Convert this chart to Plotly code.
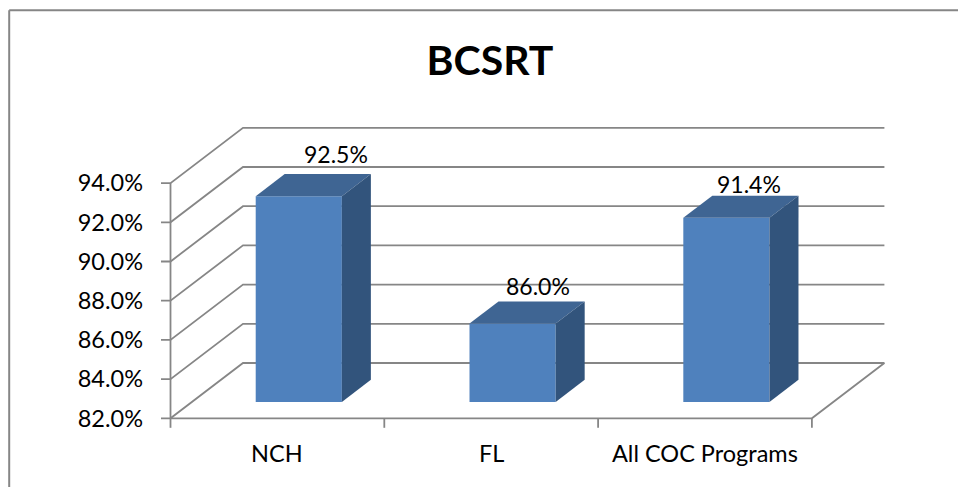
import plotly.graph_objects as go

# ---- data ----
title = "BCSRT"
categories = ["NCH", "FL", "All COC Programs"]
values = [92.5, 86.0, 91.4]
y_ticks = [82, 84, 86, 88, 90, 92, 94]

# ---- style / projection ----
FONT = "Lato"
GREY = "#868686"
FRONT, TOP, SIDE = "#4F81BD", "#3F6593", "#32547C"
W, H = 958, 487
ORIGIN_PX = (170.5, 418.3)  # where the first tick value meets the first category edge
L, R, T, B = 158, 70, 124, 55
PW, PH = W - L - R, H - T - B
PX_CAT = 213.8       # pixels per category
PX_PCT = 19.6        # pixels per percent point
DX = 72.5 / PX_CAT   # depth offset of the back wall, category units
DY = 55.3 / PX_PCT   # depth offset of the back wall, percent units
BAR_W = 0.403
D0, D1 = 0.295, 0.695  # bar front and back depth (0 front, 1 back wall)
TICK_X = 9.5 / PX_CAT
TICK_Y = 9.5 / PX_PCT
label_shift_px = [(37, 42), (25.5, 38), (22.5, 34)]
LINE_W = 1.8

y_min = y_ticks[0]
x_range = [(L - ORIGIN_PX[0]) / PX_CAT, (W - R - ORIGIN_PX[0]) / PX_CAT]
y_range = [y_min - (H - B - ORIGIN_PX[1]) / PX_PCT, y_min + (ORIGIN_PX[1] - T) / PX_PCT]
n = len(categories)


def proj(x, y, d):
    return x + d * DX, y + d * DY


def paper_x(px):
    return (px - L) / PW


def paper_y(py):
    return 1 - (py - T) / PH


fig = go.Figure()


def line(xs, ys):
    fig.add_trace(go.Scatter(x=xs, y=ys, mode="lines", hoverinfo="skip", showlegend=False,
                             line=dict(color=GREY, width=LINE_W)))


# walls, floor and tick marks
for t in y_ticks:
    bx, by = proj(0, t, 1)
    ex, ey = proj(n, t, 1)
    line([-TICK_X, 0, bx, ex], [t, t, by, ey])
line([0, 0], [y_ticks[0], y_ticks[-1]])
fx, fy = proj(n, y_min, 1)
line([0, n, fx], [y_min, y_min, fy])
for i in range(n + 1):
    line([i, i], [y_min, y_min - TICK_Y])

# bars: front faces through a bar trace on an overlay axis pair
centers = [i + 0.5 + D0 * DX for i in range(n)]
base = y_min + D0 * DY
fig.add_trace(go.Bar(x=centers, y=[v - y_min for v in values], base=base, width=BAR_W,
                     marker=dict(color=FRONT, line=dict(width=0)), xaxis="x2", yaxis="y2",
                     showlegend=False, hoverinfo="skip"))


def poly(pts, color):
    xs, ys = zip(*pts)
    fig.add_trace(go.Scatter(x=list(xs) + [xs[0]], y=list(ys) + [ys[0]], mode="lines", fill="toself",
                             fillcolor=color, line=dict(width=0, color=color), xaxis="x2", yaxis="y2",
                             showlegend=False, hoverinfo="skip"))


for i, v in enumerate(values):
    xl = i + 0.5 - BAR_W / 2
    xr = i + 0.5 + BAR_W / 2
    poly([proj(xl, v, D0), proj(xr, v, D0), proj(xr, v, D1), proj(xl, v, D1)], TOP)
    poly([proj(xr, y_min, D0), proj(xr, v, D0), proj(xr, v, D1), proj(xr, y_min, D1)], SIDE)

annotations = []
for i, v in enumerate(values):
    sx, sy = label_shift_px[i]
    annotations.append(dict(x=centers[i], y=v + D0 * DY, xref="x", yref="y", text=f"{v:.1f}%",
                            showarrow=False, xshift=sx, yshift=sy, xanchor="center", yanchor="middle",
                            font=dict(family=FONT, size=23, color="#000000")))
    annotations.append(dict(x=i + 0.5, y=y_min, xref="x", yref="y", text=categories[i], showarrow=False,
                            yshift=-35, xanchor="center", yanchor="middle",
                            font=dict(family=FONT, size=23.5, color="#000000")))

axis_common = dict(showgrid=False, zeroline=False, showline=False)
fig.update_layout(
    width=W, height=H, autosize=False,
    margin=dict(l=L, r=R, t=T, b=B, pad=0),
    paper_bgcolor="#FFFFFF", plot_bgcolor="rgba(0,0,0,0)",
    title=dict(text=f"<b>{title}</b>", x=490 / W, xanchor="center", y=1 - 61 / H, yanchor="middle",
               font=dict(family=FONT, size=41, color="#000000")),
    xaxis=dict(range=x_range, tickmode="array", tickvals=[], ticks="", **axis_common),
    yaxis=dict(range=y_range, tickmode="array", tickvals=y_ticks, ticktext=[f"{t:.1f}%" for t in y_ticks],
               ticks="", ticklabelstandoff=14,
               tickfont=dict(family=FONT, size=23.5, color="#000000"), **axis_common),
    xaxis2=dict(range=x_range, overlaying="x", visible=False, **axis_common),
    yaxis2=dict(range=y_range, overlaying="y", visible=False, **axis_common),
    annotations=annotations,
    shapes=[
        dict(type="line", xref="paper", yref="paper", x0=paper_x(9.2), x1=paper_x(9.2),
             y0=paper_y(H), y1=paper_y(10.2), line=dict(color=GREY, width=2)),
        dict(type="line", xref="paper", yref="paper", x0=paper_x(9.2), x1=paper_x(W),
             y0=paper_y(10.2), y1=paper_y(10.2), line=dict(color=GREY, width=2)),
    ],
)

fig.write_html("out.html", config={"displayModeBar": False},
               post_script="document.body.style.margin='0';")
